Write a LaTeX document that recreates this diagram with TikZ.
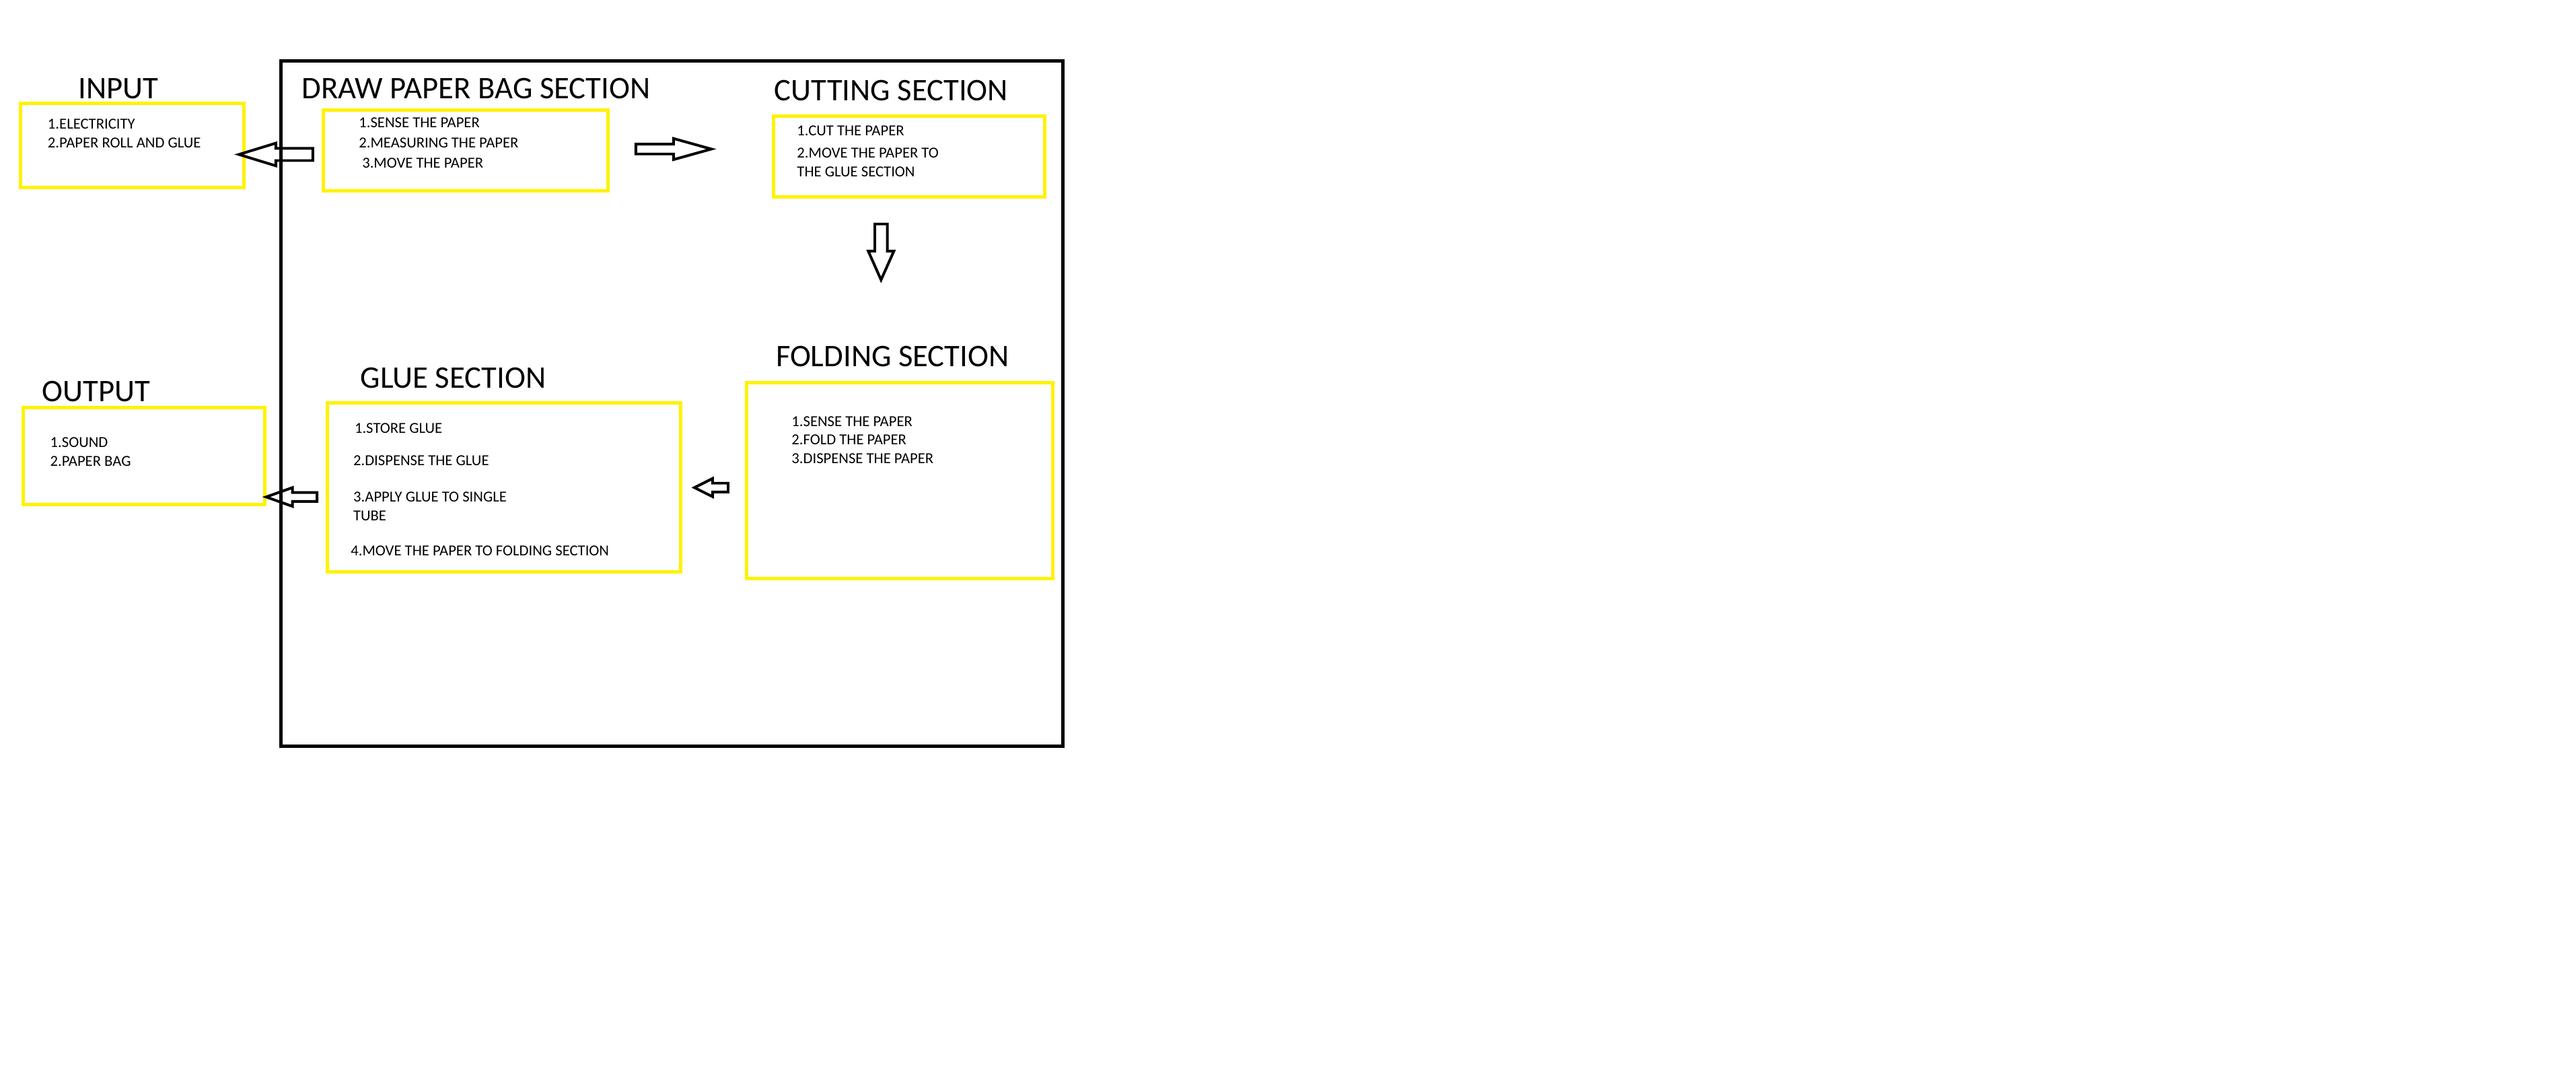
\documentclass[tikz,border=0pt]{standalone}
\usepackage{fontspec}
\setmainfont{Carlito}
\definecolor{boxyellow}{RGB}{255,242,0}
\tikzset{
  ybox/.style={draw=boxyellow, line width=1.45pt},
  title/.style={anchor=base west, inner sep=0pt, font=\fontsize{13.6}{16}\selectfont},
  item/.style={anchor=base west, inner sep=0pt, font=\fontsize{6.6}{8}\selectfont},
  pics/blockarrow/.style n args={4}{code={
    \draw [line width=1.15pt, line join=miter] (0,-#3) -- ({#1-#2},-#3) -- ({#1-#2},-#4) -- (#1,0)
      -- ({#1-#2},#4) -- ({#1-#2},#3) -- (0,#3) -- cycle;
  }}
}
\begin{document}
\begin{tikzpicture}[x=0.025cm, y=-0.025cm]
    \useasboundingbox (0,0) rectangle (1568,651.3);

    % main frame
    \node (frame) [draw, line width=1.45pt, minimum width=11.9cm, minimum height=10.425cm] at (409,245.5) {};

    % input
    \node (intitle) [title] at (47.5,60) {INPUT};
    \node (inbox) [ybox, minimum width=3.4cm, minimum height=1.275cm] at (80.5,88.5) {};
    \node (in1) [item] at (28.8,78.5) {1.ELECTRICITY};
    \node (in2) [item] at (28.8,90.1) {2.PAPER ROLL AND GLUE};

    % draw paper bag section
    \node (drawtitle) [title] at (183.4,60) {DRAW PAPER BAG SECTION};
    \node (drawbox) [ybox, minimum width=4.325cm, minimum height=1.225cm] at (283.5,91.5) {};
    \node (draw1) [item] at (218.2,77.6) {1.SENSE THE PAPER};
    \node (draw2) [item] at (218.2,90.1) {2.MEASURING THE PAPER};
    \node (draw3) [item] at (220.2,102.1) {3.MOVE THE PAPER};

    % cutting section
    \node (cuttitle) [title] at (471.1,61.2) {CUTTING SECTION};
    \node (cutbox) [ybox, minimum width=4.125cm, minimum height=1.2375cm] at (553.5,95.25) {};
    \node (cut1) [item] at (484.9,82.6) {1.CUT THE PAPER};
    \node (cut2) [item] at (484.9,96) {2.MOVE THE PAPER TO};
    \node (cut3) [item] at (484.9,107.5) {THE GLUE SECTION};

    % folding section
    \node (foldtitle) [title] at (472,222.9) {FOLDING SECTION};
    \node (foldbox) [ybox, minimum width=4.6625cm, minimum height=2.975cm] at (547.75,292.5) {};
    \node (fold1) [item] at (481.6,259.5) {1.SENSE THE PAPER};
    \node (fold2) [item] at (481.6,270.7) {2.FOLD THE PAPER};
    \node (fold3) [item] at (481.6,282) {3.DISPENSE THE PAPER};

    % glue section
    \node (gluetitle) [title] at (219.1,236) {GLUE SECTION};
    \node (gluebox) [ybox, minimum width=5.37cm, minimum height=2.575cm] at (306.7,296.5) {};
    \node (glue1) [item] at (215.6,263.6) {1.STORE GLUE};
    \node (glue2) [item] at (214.8,283.4) {2.DISPENSE THE GLUE};
    \node (glue3) [item] at (214.8,305.5) {3.APPLY GLUE TO SINGLE};
    \node (glue4) [item] at (214.8,316.8) {TUBE};
    \node (glue5) [item] at (213.3,338) {4.MOVE THE PAPER TO FOLDING SECTION};

    % output
    \node (outtitle) [title] at (25.4,244.2) {OUTPUT};
    \node (outbox) [ybox, minimum width=3.675cm, minimum height=1.475cm] at (87.5,277.5) {};
    \node (out1) [item] at (30.3,272.2) {1.SOUND};
    \node (out2) [item] at (30.3,283.6) {2.PAPER BAG};

    % block arrows
    \pic (drawtoin) [rotate=180] at (190.4,94) {blockarrow={45}{22.5}{3.7}{6.9}};
    \pic (drawtocut) at (387,90.7) {blockarrow={46}{23}{3}{6.4}};
    \pic (cuttofold) [rotate=-90] at (536.3,136.3) {blockarrow={34}{17.5}{3.8}{7.8}};
    \pic (foldtoglue) [rotate=180] at (443.2,296.7) {blockarrow={20.5}{11}{2.7}{5.5}};
    \pic (gluetoout) [rotate=180] at (193,302.4) {blockarrow={31}{16}{2.7}{5.7}};
  \end{tikzpicture}
\end{document}
